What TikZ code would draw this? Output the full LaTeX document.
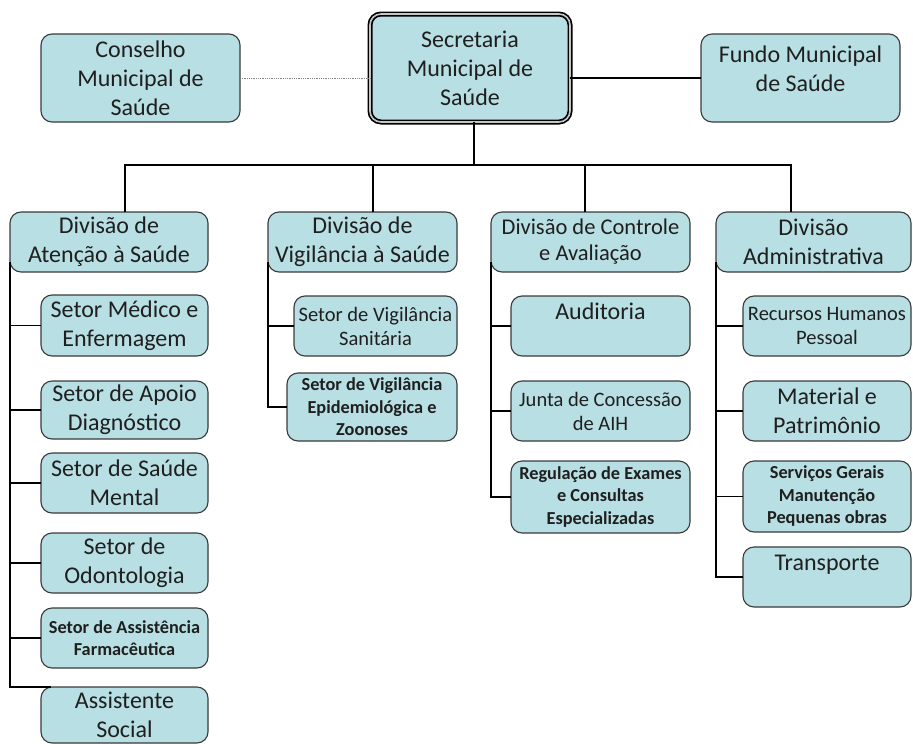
\documentclass[tikz,border=0pt]{standalone}
\usepackage{fontspec}
\setmainfont{Carlito}
\definecolor{boxfill}{RGB}{184,223,227}
\definecolor{boxline}{RGB}{58,58,58}
\colorlet{textcolor}{black!88}
\tikzset{
        unit/.style={draw=boxline, line width=1.1pt, fill=boxfill, rounded corners=11pt,
                align=center, inner sep=0pt, outer sep=0pt, text=textcolor},
        headunit/.style={unit, draw=black, line width=1.7pt, double=gray!45,
                double distance=1.6pt},
        bigtext/.style={font=\fontsize{24}{29}\selectfont},
        divtext/.style={font=\fontsize{22.5}{26}\selectfont},
        midtext/.style={font=\fontsize{20.5}{24}\selectfont},
        smalltext/.style={font=\fontsize{18.3}{22.5}\selectfont\bfseries},
        link/.style={draw=black, line width=1.1pt},
        sidelink/.style={draw=gray, line width=0.8pt, densely dotted},
}

\begin{document}
\begin{tikzpicture}[x=1pt, y=-1pt]
        \useasboundingbox (0,0) rectangle (913,744);

        \node (sec) at (470,68) [headunit, bigtext, minimum width=200pt, minimum height=108pt]
                {Secretaria\\Municipal de\\Saúde};
        \node (cons) at (140.5,78) [unit, bigtext, minimum width=199pt, minimum height=88pt]
                {Conselho\\Municipal de\\Saúde};
        \node (fundo) at (800.5,78) [unit, bigtext, minimum width=199pt, minimum height=88pt]
                {Fundo Municipal\\de Saúde\\[-11pt]\mbox{}};

        \node (div1) at (109,242) [unit, bigtext, minimum width=198pt, minimum height=60pt]
                {Divisão de\\Atenção à Saúde};
        \node (div2) at (362.5,242) [unit, bigtext, minimum width=189pt, minimum height=60pt]
                {Divisão de\\Vigilância à Saúde};
        \node (div3) at (590.5,242) [unit, divtext, minimum width=199pt, minimum height=60pt]
                {Divisão de Controle\\e Avaliação};
        \node (div4) at (813.5,242) [unit, bigtext, minimum width=195pt, minimum height=60pt]
                {Divisão\\Administrativa};

        \node (med) at (124.5,325.5) [unit, bigtext, minimum width=167pt, minimum height=61pt]
                {Setor Médico e\\Enfermagem};
        \node (apoio) at (124.5,410) [unit, bigtext, minimum width=167pt, minimum height=58pt]
                {Setor de Apoio\\Diagnóstico};
        \node (mental) at (124.5,483) [unit, bigtext, minimum width=167pt, minimum height=60pt]
                {Setor de Saúde\\Mental};
        \node (odonto) at (124.5,563) [unit, bigtext, minimum width=167pt, minimum height=60pt]
                {Setor de\\Odontologia};
        \node (farm) at (124.5,638) [unit, smalltext, minimum width=167pt, minimum height=60pt]
                {Setor de Assistência\\Farmacêutica};
        \node (social) at (124.5,715) [unit, bigtext, minimum width=167pt, minimum height=56pt]
                {Assistente\\Social};

        \node (sanit) at (375.5,326) [unit, midtext, minimum width=163pt, minimum height=60pt]
                {Setor de Vigilância\\Sanitária};
        \node (epi) at (372,407) [unit, smalltext, minimum width=170pt, minimum height=68pt]
                {Setor de Vigilância\\Epidemiológica e\\Zoonoses};

        \node (aud) at (600.5,326) [unit, bigtext, minimum width=179pt, minimum height=60pt]
                {Auditoria\\\mbox{}};
        \node (junta) at (600.5,411) [unit, midtext, minimum width=179pt, minimum height=60pt]
                {Junta de Concessão\\de AIH};
        \node (reg) at (600.5,497) [unit, smalltext, minimum width=179pt, minimum height=72pt]
                {Regulação de Exames\\e Consultas\\Especializadas};

        \node (rh) at (827,326) [unit, midtext, minimum width=168pt, minimum height=60pt]
                {Recursos Humanos\\Pessoal};
        \node (mat) at (827,411) [unit, bigtext, minimum width=168pt, minimum height=60pt]
                {Material e\\Patrimônio};
        \node (serv) at (827,496.5) [unit, smalltext, minimum width=168pt, minimum height=71pt]
                {Serviços Gerais\\Manutenção\\Pequenas obras};
        \node (transp) at (827,577) [unit, bigtext, minimum width=168pt, minimum height=60pt]
                {Transporte\\\mbox{}};

        \coordinate (hub) at (474,165);
        \coordinate (sp1) at ([yshift=10pt]div1.south west);
        \coordinate (sp2) at ([yshift=10pt]div2.south west);
        \coordinate (sp3) at ([yshift=10pt]div3.south west);
        \coordinate (sp4) at ([yshift=10pt]div4.south west);

        \draw[sidelink] (cons.east) -- (cons.east -| sec.west);
        \draw[link] (fundo.west -| sec.east) -- (fundo.west);
        \draw[link] (hub |- sec.south) -- (hub);
        \draw[link] ([xshift=16pt]div1.north) |- (hub);
        \draw[link] ([xshift=10.5pt]div2.north) |- (hub);
        \draw[link] ([xshift=-5.5pt]div3.north) |- (hub);
        \draw[link] ([xshift=-22.5pt]div4.north) |- (hub);

        \foreach \n in {med, apoio, mental, odonto, farm}
                \draw[link] (sp1) |- (\n.west);
        \draw[link] (sp1) |- ([xshift=10pt]social.north west);
        \foreach \n in {sanit, epi}
                \draw[link] (sp2) |- (\n.west);
        \foreach \n in {aud, junta, reg}
                \draw[link] (sp3) |- (\n.west);
        \foreach \n in {rh, mat, serv, transp}
                \draw[link] (sp4) |- (\n.west);
\end{tikzpicture}
\end{document}
